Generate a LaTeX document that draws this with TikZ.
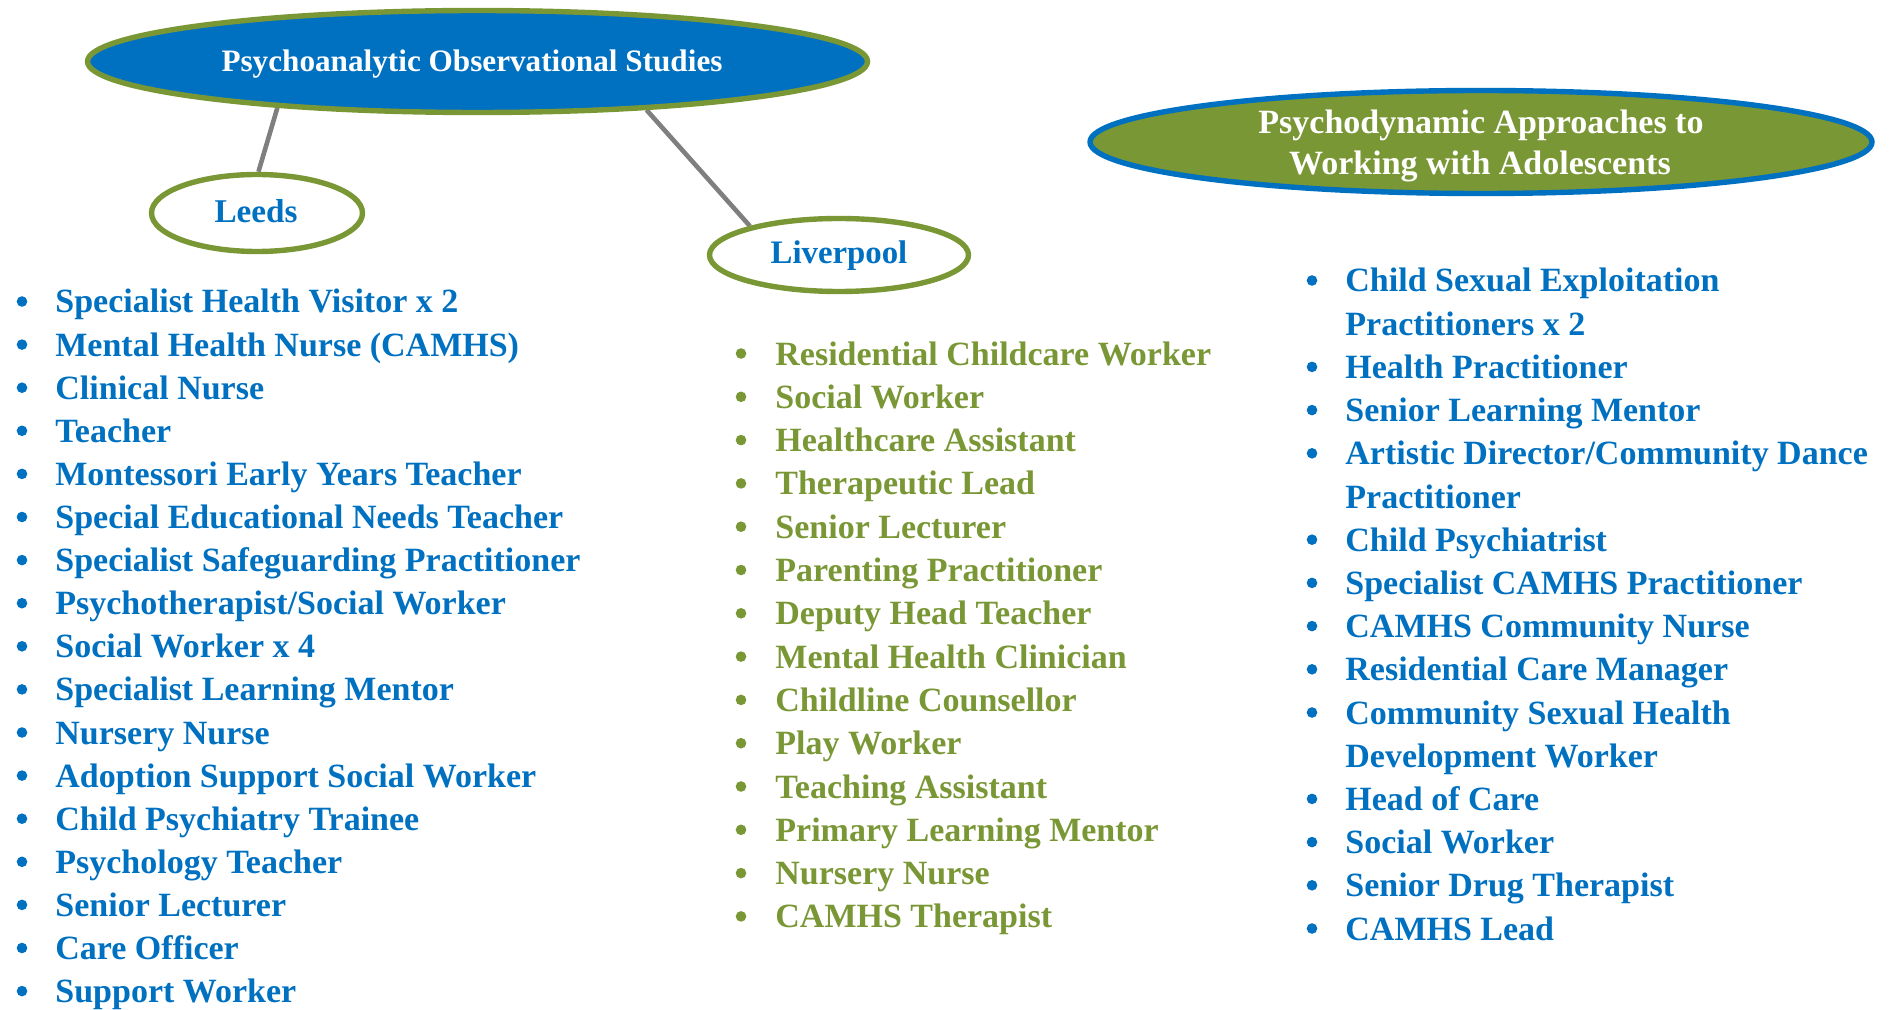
\documentclass[tikz,border=0pt]{standalone}
\usepackage{fontspec}
\setmainfont{Liberation Serif}
\usetikzlibrary{shapes.geometric,backgrounds}
\definecolor{oblue}{HTML}{0070C0}
\definecolor{ogreen}{HTML}{7A9736}
\definecolor{lgray}{HTML}{7F7F7F}
\begin{document}
\begin{tikzpicture}[x=0.5pt,y=-0.5pt,
  oval/.style={ellipse, inner sep=0pt, line width=2.7pt},
  otitle/.style={anchor=base, inner sep=0pt, font=\bfseries\fontsize{#1}{#1}\selectfont},
  listitem/.style={anchor=base west, inner sep=0pt, font=\bfseries\fontsize{17}{20}\selectfont},
  dot/.style={circle, fill, inner sep=0pt, minimum size=5.3pt},
  link/.style={draw=lgray, line width=2.3pt}
]
\useasboundingbox (0,0) rectangle (1899,1010);

% ellipses
\node[oval, draw=ogreen, fill=oblue, minimum width=390pt, minimum height=51pt] (top) at (477.5,61.5) {};
\node[otitle=15.6, text=white] (topT) at (472,71.7) {Psychoanalytic Observational Studies};

\node[oval, draw=ogreen, fill=white, minimum width=105.5pt, minimum height=38.5pt] (leeds) at (257,213) {};
\node[otitle=16.6, text=oblue] (leedsT) at (256,223) {Leeds};

\node[oval, draw=ogreen, fill=white, minimum width=129.5pt, minimum height=36.5pt] (liv) at (839,255) {};
\node[otitle=16.4, text=oblue] (livT) at (839,264) {Liverpool};

\node[oval, draw=oblue, fill=ogreen, minimum width=391pt, minimum height=51.5pt] (adol) at (1481,142) {};
\node[otitle=17, text=white] (adolT1) at (1481,134) {Psychodynamic Approaches to};
\node[otitle=17, text=white] (adolT2) at (1480,175) {Working with Adolescents};

% connectors
\begin{scope}[on background layer]
\draw[link] (top.193.6) -- (leeds.88);
\draw[link] (top.-16) -- (liv.162.8);
\end{scope}

% Leeds list
\foreach \t [count=\i] in {Specialist Health Visitor x 2, Mental Health Nurse (CAMHS), Clinical Nurse, Teacher, Montessori Early Years Teacher, Special Educational Needs Teacher, Specialist Safeguarding Practitioner, Psychotherapist/Social Worker, Social Worker x 4, Specialist Learning Mentor, Nursery Nurse, Adoption Support Social Worker, Child Psychiatry Trainee, Psychology Teacher, Senior Lecturer, Care Officer, Support Worker}{
  \pgfmathsetmacro{\yy}{313+43.1*(\i-1)}
  \node[dot, fill=oblue] (Lb\i) at (22,\yy-11.5) {};
  \node[listitem, text=oblue] (L\i) at (55,\yy) {\t};
}

% Liverpool list
\foreach \t [count=\i] in {Residential Childcare Worker, Social Worker, Healthcare Assistant, Therapeutic Lead, Senior Lecturer, Parenting Practitioner, Deputy Head Teacher, Mental Health Clinician, Childline Counsellor, Play Worker, Teaching Assistant, Primary Learning Mentor, Nursery Nurse, CAMHS Therapist}{
  \pgfmathsetmacro{\yy}{365+43.3*(\i-1)}
  \node[dot, fill=ogreen] (Mb\i) at (741,\yy-11.5) {};
  \node[listitem, text=ogreen] (M\i) at (775,\yy) {\t};
}

% Adolescents list
\foreach \b/\t [count=\i] in {1/Child Sexual Exploitation, 0/Practitioners x 2, 1/Health Practitioner, 1/Senior Learning Mentor, 1/{Artistic Director/Community Dance}, 0/Practitioner, 1/Child Psychiatrist, 1/Specialist CAMHS Practitioner, 1/CAMHS Community Nurse, 1/Residential Care Manager, 1/Community Sexual Health, 0/Development Worker, 1/Head of  Care, 1/Social Worker, 1/Senior Drug Therapist, 1/CAMHS Lead}{
  \pgfmathsetmacro{\yy}{292+43.2*(\i-1)}
  \ifnum\b=1
    \node[dot, fill=oblue] (Rb\i) at (1312,\yy-11.5) {};
  \fi
  \node[listitem, text=oblue] (R\i) at (1345,\yy) {\t};
}
\end{tikzpicture}
\end{document}
